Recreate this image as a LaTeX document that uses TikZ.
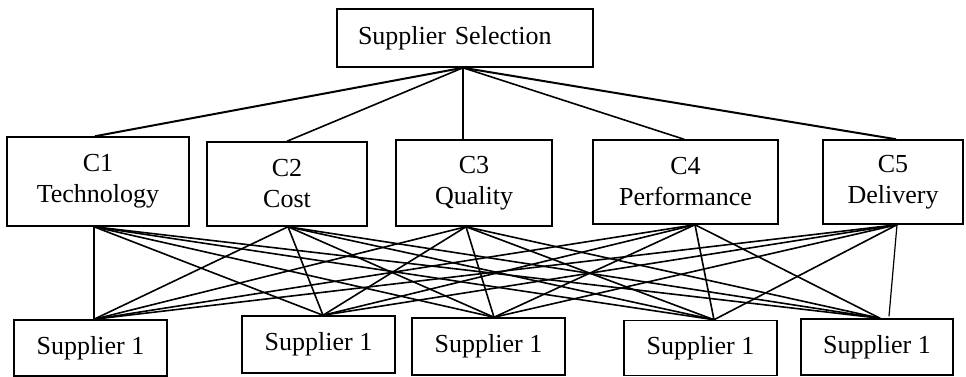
\documentclass[tikz,border=0pt]{standalone}
\usepackage{fontspec}
\setmainfont{Liberation Serif}
\begin{document}
\begin{tikzpicture}[x=1pt,y=-1pt,
  box/.style={draw,line width=1.5pt,inner sep=0pt,font=\fontsize{26}{31}\selectfont,align=center},
  link/.style={line width=1.6pt}]
\useasboundingbox (0,0) rectangle (966,377);
% top
\node[box,minimum width=256,minimum height=58,inner xsep=21pt,text width=214pt,align=left] (top) at (465,38) {Supplier Selection};
% criteria
\node[box,minimum width=182,minimum height=89] (c1) at (98,181.5) {C1\\Technology};
\node[box,minimum width=160,minimum height=84] (c2) at (287,184) {C2\\Cost};
\node[box,minimum width=156,minimum height=86] (c3) at (474,183) {C3\\Quality};
\node[box,minimum width=185,minimum height=84] (c4) at (685.5,182) {C4\\Performance};
\node[box,minimum width=140,minimum height=84] (c5) at (893,182) {C5\\Delivery};
% suppliers
\node[box,minimum width=153,minimum height=56] (s1) at (90.5,348) {Supplier 1};
\node[box,minimum width=153,minimum height=57] (s2) at (318.5,344.5) {Supplier 1};
\node[box,minimum width=153,minimum height=57] (s3) at (488.5,346.5) {Supplier 1};
\node[box,minimum width=153,minimum height=55] (s4) at (700.5,348) {Supplier 1};
\node[box,minimum width=152,minimum height=56] (s5) at (877,347) {Supplier 1};
% attachment points
\coordinate (tb) at ([xshift=-2pt]top.south);
\foreach \i/\t/\b in {1/-3/-4,2/0/1,3/-11/-8,4/-1.5/9.5,5/3/4}{
  \coordinate (ct\i) at ([xshift=\t pt]c\i.north);
  \coordinate (cb\i) at ([xshift=\b pt]c\i.south);
}
\foreach \j/\s in {1/3.5,2/4.5,3/5.5,4/13.5,5/3}{
  \coordinate (st\j) at ([xshift=\s pt]s\j.north);
}
\coordinate (st5b) at ([xshift=12pt,yshift=2pt]s5.north);
% top links
\draw[line width=2pt] (tb) -- (ct1);
\foreach \i in {2,3,4}{\draw[link] (tb) -- (ct\i);}
\draw[line width=2pt] (tb) -- (ct5);
% criterion-supplier links
\foreach \i in {1,...,4}{
  \foreach \j in {1,...,5}{\draw[link] (cb\i) -- (st\j);}
}
\foreach \j in {1,...,4}{\draw[link] (cb5) -- (st\j);}
\draw[line width=1.2pt] (cb5) -- (st5b);
\end{tikzpicture}
\end{document}
